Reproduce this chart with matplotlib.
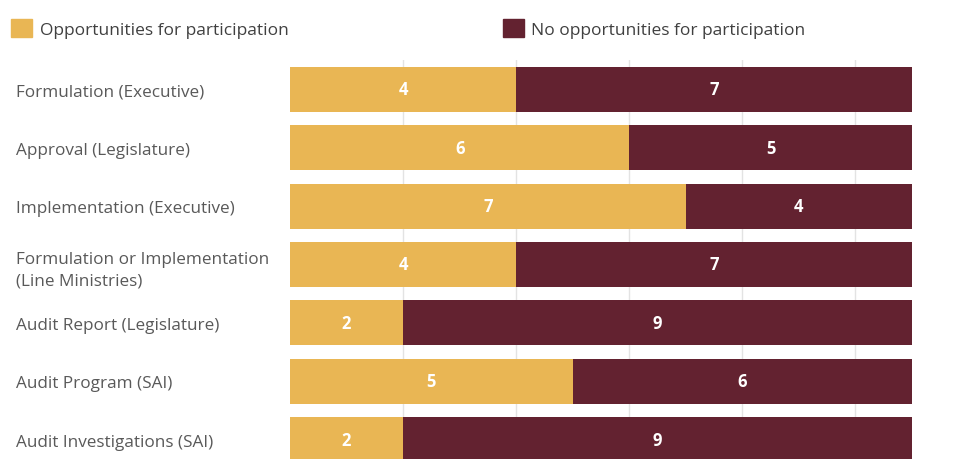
import numpy as np
import matplotlib.pyplot as plt
from matplotlib.patches import Patch

# %% data
stages = ["Formulation (Executive)",
          "Approval (Legislature)",
          "Implementation (Executive)",
          "Formulation or Implementation\n(Line Ministries)",
          "Audit Report (Legislature)",
          "Audit Program (SAI)",
          "Audit Investigations (SAI)"]
with_opp = [4, 6, 7, 4, 2, 5, 2]
no_opp = [7, 5, 4, 7, 9, 6, 9]

gold = "#E9B654"
maroon = "#632230"

plt.rcParams['font.family'] = ['Open Sans', 'DejaVu Sans']

# %% figure
fig = plt.figure(figsize=(9.56, 4.6), dpi=100)
ax = fig.add_axes([290/956, 1 - 470/460, 622/956, 409/460])

y = np.arange(len(stages))
ax.barh(y, with_opp, height=0.77, color=gold, zorder=2)
ax.barh(y, no_opp, left=with_opp, height=0.77, color=maroon, zorder=2)

# value labels in the middle of each segment
for i in range(len(stages)):
    ax.text(with_opp[i] / 2, y[i], str(with_opp[i]), ha="center", va="center",
            color="white", fontsize=12, fontweight="bold", zorder=3)
    ax.text(with_opp[i] + no_opp[i] / 2, y[i], str(no_opp[i]), ha="center", va="center",
            color="white", fontsize=12, fontweight="bold", zorder=3)

ax.set_xlim(0, 11)
ax.set_ylim(len(stages) - 0.5, -0.5)
ax.set_xticks([2, 4, 6, 8, 10])
ax.xaxis.grid(True, color="#E3E3E3", linewidth=1, zorder=0)
ax.tick_params(axis="x", length=0, labelbottom=False)

ax.set_yticks(y)
ax.set_yticklabels(stages, ha="left", fontsize=12.3, color="#595959", linespacing=1.5)
ax.tick_params(axis="y", length=0, pad=197)

for s in ax.spines.values():
    s.set_visible(False)

# legend
handles = [Patch(color=gold, label="Opportunities for participation"),
           Patch(color=maroon, label="No opportunities for participation")]
fig.legend(handles=handles, loc="upper left", bbox_to_anchor=(-0.0085, 0.998), ncol=2,
           frameon=False, fontsize=12.5, labelcolor="#404040",
           handlelength=1.2, handleheight=1.2, handletextpad=0.45,
           columnspacing=12.35, borderaxespad=0.7)

fig.savefig("out.png", dpi=100)
